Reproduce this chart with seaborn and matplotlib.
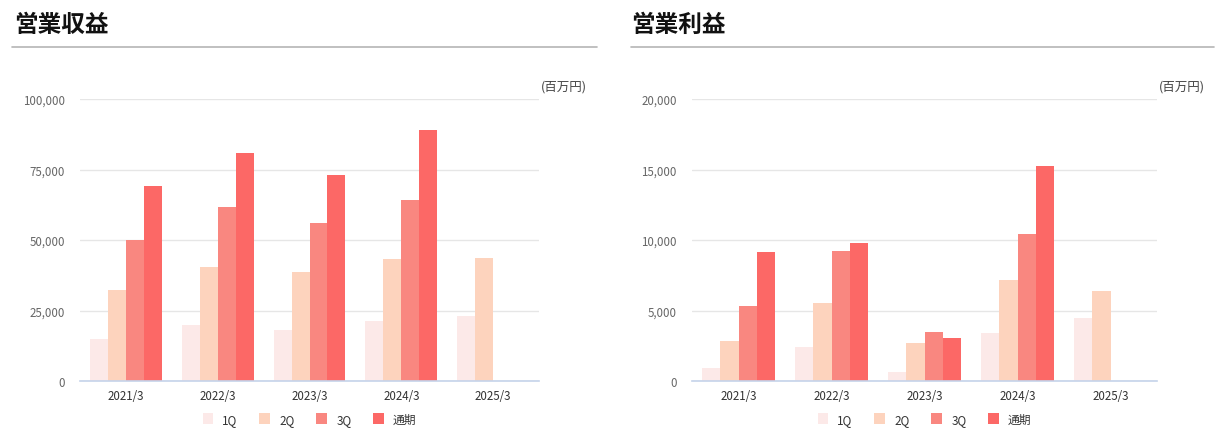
import matplotlib
matplotlib.use("Agg")
import matplotlib.pyplot as plt
from matplotlib.lines import Line2D
from matplotlib.patches import Patch
from matplotlib.ticker import FuncFormatter
import seaborn as sns
import pandas as pd
import numpy as np

# ---- data ----
years = ["2021/3", "2022/3", "2023/3", "2024/3", "2025/3"]
quarters = ["1Q", "2Q", "3Q", "通期"]

rev_1q = [15000, 19700, 18200, 21100, 22900]
rev_2q = [32100, 40300, 38500, 43100, 43500]
rev_3q = [50000, 61600, 55900, 64100, np.nan]
rev_fy = [69100, 80800, 73000, 89000, np.nan]

op_1q = [930, 2420, 640, 3420, 4480]
op_2q = [2850, 5550, 2700, 7190, 6410]
op_3q = [5340, 9250, 3490, 10460, np.nan]
op_fy = [9180, 9820, 3060, 15230, np.nan]

titles = ["営業収益", "営業利益"]
yticks_rev = [0, 25000, 50000, 75000, 100000]
yticks_op = [0, 5000, 10000, 15000, 20000]
unit_label = "(百万円)"

colors = ["#fce9e8", "#fdd3bd", "#f98780", "#fc6866"]


def long_df(series):
    rows = []
    for q, vals in zip(quarters, series):
        for y, v in zip(years, vals):
            rows.append({"year": y, "quarter": q, "value": v})
    return pd.DataFrame(rows)


df_rev = long_df([rev_1q, rev_2q, rev_3q, rev_fy])
df_op = long_df([op_1q, op_2q, op_3q, op_fy])

sns.set_theme(style="white")
plt.rcParams["font.family"] = ["Noto Sans CJK JP", "DejaVu Sans"]

W, H = 1221, 439
fig = plt.figure(figsize=(W / 100, H / 100), dpi=100)


def fx(px):
    return px / W


def fy(py):
    return 1 - py / H


panels = [
    dict(df=df_rev, yt=yticks_rev, ax_x0=80, ax_x1=539, title_x=14, line_x0=12, line_x1=597, title=titles[0]),
    dict(df=df_op, yt=yticks_op, ax_x0=692, ax_x1=1157, title_x=631, line_x0=631, line_x1=1214, title=titles[1]),
]

top_px, bot_px = 100, 382

for p in panels:
    ax = fig.add_axes([fx(p["ax_x0"]), fy(bot_px), fx(p["ax_x1"] - p["ax_x0"]), (bot_px - top_px) / H])
    sns.barplot(data=p["df"], x="year", y="value", hue="quarter", order=years,
                hue_order=quarters, palette=colors, width=0.78, saturation=1,
                linewidth=0, errorbar=None, ax=ax, zorder=3)
    ax.set_ylim(p["yt"][0], p["yt"][-1])
    ax.set_xlim(-0.5, len(years) - 0.5)
    ax.set_yticks(p["yt"])
    ax.yaxis.set_major_formatter(FuncFormatter(lambda v, _: f"{int(v):,}"))
    ax.grid(axis="y", color="#e6e6e6", linewidth=1, zorder=0)
    ax.grid(axis="x", visible=False)
    for s in ["top", "right", "left"]:
        ax.spines[s].set_visible(False)
    ax.spines["bottom"].set_color("#c5d3ea")
    ax.spines["bottom"].set_linewidth(1.2)
    ax.spines["bottom"].set_zorder(4)
    ax.tick_params(axis="y", length=0, pad=11, labelsize=8.3, labelcolor="#666666")
    ax.tick_params(axis="x", length=0, pad=6, labelsize=8.3, labelcolor="#333333")
    ax.set_xlabel("")
    ax.set_ylabel("")
    ax.set_facecolor("white")
    if ax.get_legend() is not None:
        ax.get_legend().remove()

    ax.text(1.005, 1.046, unit_label, transform=ax.transAxes, ha="left", va="center",
            fontsize=9, color="#444444")

    handles = [Patch(facecolor=c, edgecolor="none") for c in colors]
    ax.legend(handles, quarters, loc="center", bbox_to_anchor=(0.5, -0.135),
              ncol=4, frameon=False, fontsize=8.5, handlelength=0.93, handleheight=0.93,
              handletextpad=0.75, columnspacing=1.85, labelcolor="#333333")

    fig.text(fx(p["title_x"]), fy(25), p["title"], fontsize=17, fontweight="bold",
             color="#111111", ha="left", va="center")
    fig.add_artist(Line2D([fx(p["line_x0"]), fx(p["line_x1"])], [fy(48), fy(48)],
                          color="#b5b5b5", linewidth=1.2))

fig.savefig("out.png", dpi=100, facecolor="white")
